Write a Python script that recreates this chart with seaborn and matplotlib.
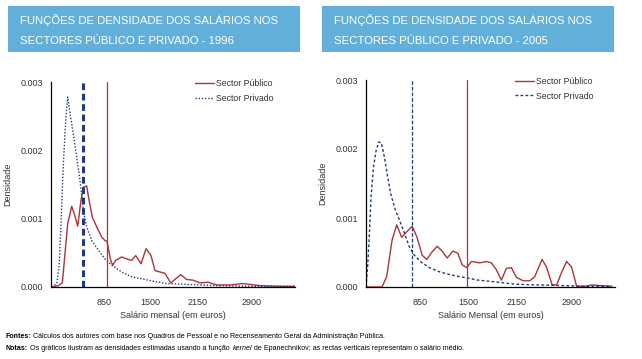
import matplotlib
matplotlib.use("Agg")
import matplotlib.pyplot as plt
import pandas as pd
import seaborn as sns
from matplotlib.patches import Rectangle

# Salary grids (euros) and estimated densities
pub96_x = [122, 214, 270, 307, 345, 400, 437, 484, 530, 563, 609, 642, 688, 749, 818, 864, 892, 944, 972, 1014,
           1097, 1167, 1236, 1292, 1366, 1436, 1505, 1561, 1700, 1780, 1919, 2002, 2090, 2188, 2299, 2420, 2606,
           2787, 3024, 3302, 3535]
pub96_y = [0, 0.00002, 0.00006, 0.00049, 0.00093, 0.00118, 0.00107, 0.00089, 0.00127, 0.00146, 0.00148, 0.00127,
           0.00102, 0.00088, 0.00073, 0.00068, 0.00067, 0.00039, 0.00032, 0.00039, 0.00044, 0.00041, 0.00039,
           0.00046, 0.00034, 0.00056, 0.00046, 0.00024, 0.0002, 0.00006, 0.00018, 0.00011, 0.0001, 0.00006,
           0.00007, 0.00003, 0.00003, 0.00005, 0.00002, 0.00001, 0.00001]
priv96_x = [122, 192, 224, 252, 284, 317, 345, 377, 423, 470, 516, 563, 609, 679, 772, 864, 957, 1097, 1236, 1422,
            1561, 1723, 1955, 2188, 2420, 2885, 3535]
priv96_y = [0, 0.00005, 0.00029, 0.00093, 0.0018, 0.00244, 0.00278, 0.00254, 0.00224, 0.0019, 0.00156, 0.00112,
            0.00088, 0.00068, 0.00054, 0.00041, 0.00032, 0.00022, 0.00015, 0.00011, 0.00008, 0.00005, 0.00004,
            0.00003, 0.00002, 0.00001, 0.00001]

pub05_x = [124, 340, 403, 476, 538, 606, 673, 746, 809, 882, 944, 1017, 1085, 1152, 1220, 1296, 1363, 1423, 1485,
           1545, 1657, 1748, 1815, 1883, 1951, 2018, 2086, 2154, 2243, 2334, 2401, 2500, 2560, 2636, 2695, 2763,
           2830, 2898, 2966, 3078, 3169, 3304, 3440]
pub05_y = [0, 0, 0.00015, 0.00068, 0.0009, 0.00072, 0.0008, 0.00088, 0.00073, 0.00046, 0.0004, 0.00051, 0.00059,
           0.00052, 0.00042, 0.00052, 0.00049, 0.00032, 0.00028, 0.00037, 0.00035, 0.00037, 0.00035, 0.00025,
           0.0001, 0.00027, 0.00028, 0.00014, 0.00009, 0.00009, 0.00015, 0.0004, 0.00029, 0.00003, 0.00003,
           0.00021, 0.00037, 0.00029, 0.00001, 0.00001, 0.00003, 0.00002, 0.00001]
priv05_x = [124, 146, 168, 192, 223, 259, 294, 331, 371, 416, 462, 520, 575, 643, 710, 777, 868, 981, 1116, 1251,
            1387, 1499, 1634, 1905, 2131, 2446, 2807, 3078, 3440]
priv05_y = [0, 0.00029, 0.00073, 0.00131, 0.00172, 0.00197, 0.0021, 0.00209, 0.00189, 0.0016, 0.00133, 0.00112,
            0.00097, 0.00078, 0.00058, 0.00046, 0.00036, 0.00028, 0.00022, 0.00018, 0.00015, 0.00013, 0.0001,
            0.00007, 0.00004, 0.00003, 0.00002, 0.00001, 0.00001]

# mean salaries (vertical lines)
mean96 = {'pub': 892, 'priv': 554}
mean05 = {'pub': 1485, 'priv': 741}

x_ticks = [850, 1500, 2150, 2900]
y_ticks = [0.000, 0.001, 0.002, 0.003]
titles = ['FUNÇÕES DE DENSIDADE DOS SALÁRIOS NOS\nSECTORES PÚBLICO E PRIVADO - 1996',
          'FUNÇÕES DE DENSIDADE DOS SALÁRIOS NOS\nSECTORES PÚBLICO E PRIVADO - 2005']
x_labels = ['Salário mensal (em euros)', 'Salário Mensal (em euros)']

sns.set_style('white')
plt.rcParams['font.family'] = ['Liberation Sans', 'DejaVu Sans']

RED = '#a8353a'
NAVY = '#1f3b7c'
BOX = '#62b0d9'
TXT = '#333333'

fig = plt.figure(figsize=(6.42, 3.59), dpi=100)
W, H = 642, 359


def px(x0, y0, x1, y1):
    # pixel box (top-left origin) -> figure fraction rect
    return [x0 / W, 1 - y1 / H, (x1 - x0) / W, (y1 - y0) / H]


ax1 = fig.add_axes(px(51, 82, 295, 287))
ax2 = fig.add_axes(px(366, 80, 615, 287))

panels = [
    (ax1, pub96_x, pub96_y, priv96_x, priv96_y, mean96, (112, 3511), (0, (1, 1.3)), (0, (2.2, 1.2)), 2.2, 0.926),
    (ax2, pub05_x, pub05_y, priv05_x, priv05_y, mean05, (124, 3484), (0, (2, 1.6)), (0, (3, 1.5)), 0.9, 0.928),
]

for i, (ax, px_, py_, qx, qy, means, xlim, priv_ls, mean_ls, mean_lw, leg_x) in enumerate(panels):
    df_pub = pd.DataFrame({'salario': px_, 'densidade': py_})
    df_priv = pd.DataFrame({'salario': qx, 'densidade': qy})
    sns.lineplot(data=df_pub, x='salario', y='densidade', ax=ax, color=RED, lw=1.0, label='Sector Público')
    sns.lineplot(data=df_priv, x='salario', y='densidade', ax=ax, color=NAVY, lw=1.0, label='Sector Privado',
                 linestyle=priv_ls)
    ax.axvline(means['pub'], color=RED, lw=0.9)
    ax.axvline(means['priv'], color=NAVY, lw=mean_lw, linestyle=mean_ls)

    ax.set_xlim(*xlim)
    ax.set_ylim(0, 0.003)
    ax.set_xticks(x_ticks)
    ax.set_xticklabels([str(v) for v in x_ticks])
    ax.set_yticks(y_ticks)
    ax.set_yticklabels(['%.3f' % v for v in y_ticks])
    ax.tick_params(axis='both', labelsize=6.5, colors=TXT, labelcolor=TXT)
    ax.tick_params(axis='y', length=3, width=0.8, color='black', direction='out', pad=3)
    ax.tick_params(axis='x', length=0, pad=8)
    for s in ['top', 'right']:
        ax.spines[s].set_visible(False)
    for s in ['left', 'bottom']:
        ax.spines[s].set_color('black')
        ax.spines[s].set_linewidth(0.9)
    ax.set_xlabel(x_labels[i], fontsize=6.5, color=TXT, labelpad=3)
    ax.set_ylabel('Densidade', fontsize=6.5, color=TXT, labelpad=6)
    leg = ax.legend(loc='upper right', frameon=False, fontsize=6.3, handlelength=2.2, handletextpad=0.2,
                    labelspacing=0.6, borderaxespad=0.0, bbox_to_anchor=(leg_x, 1.03))
    for t in leg.get_texts():
        t.set_color(TXT)

# title boxes
for (x0, x1), title in zip([(8, 300), (322, 614)], titles):
    r = px(x0, 6, x1, 52)
    fig.patches.append(Rectangle((r[0], r[1]), r[2], r[3], transform=fig.transFigure, facecolor=BOX,
                                 edgecolor='none', zorder=0))
    fig.text((x0 + 12) / W, 1 - 30 / H, title, color='white', fontsize=8.2, va='center', ha='left',
             linespacing=2.25)

# footnotes, written in runs so bold/italic pieces line up
renderer = fig.canvas.get_renderer()


def write_runs(x, y, runs):
    for txt, weight, style, gap in runs:
        t = fig.text(x, y, txt, fontsize=5.1, weight=weight, style=style, color='black',
                     va='center', ha='left')
        bb = t.get_window_extent(renderer=renderer)
        x = bb.x1 / fig.bbox.width + gap / W


write_runs(6 / W, 1 - 336 / H, [
    ('Fontes:', 'bold', 'normal', 1.5),
    ('Cálculos dos autores com base nos Quadros de Pessoal e no Recenseamento Geral da Administração Pública.',
     'normal', 'normal', 0),
])
write_runs(6 / W, 1 - 348 / H, [
    ('Notas:', 'bold', 'normal', 1.5),
    ('Os gráficos ilustram as densidades estimadas usando a função', 'normal', 'normal', 4),
    ('kernel', 'normal', 'italic', 1.5),
    ('de Epanechnikov; as rectas verticais representam o salário médio.', 'normal', 'normal', 0),
])

fig.savefig('out.png', dpi=100)
